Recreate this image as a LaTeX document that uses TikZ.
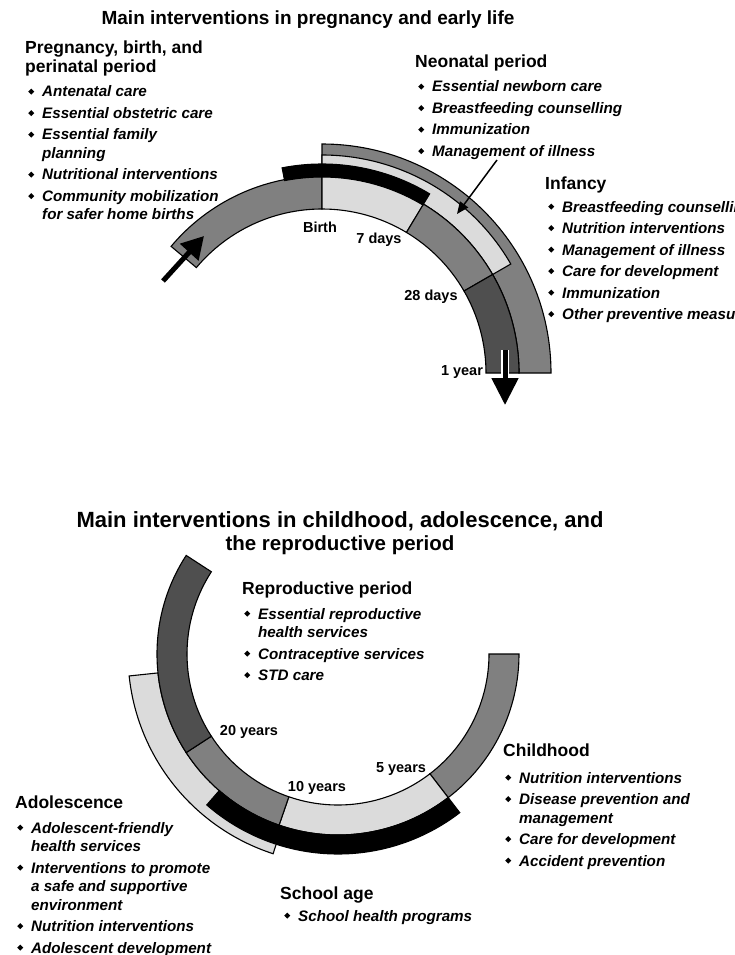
\documentclass[tikz,border=0pt]{standalone}
\usepackage{fontspec}
\usepackage{graphicx}
\setmainfont{Liberation Sans}
\usetikzlibrary{arrows.meta}

\definecolor{midgray}{gray}{0.50}
\definecolor{lightgray}{gray}{0.86}
\definecolor{darkgray}{gray}{0.31}

% annular sector: style, start angle, end angle, inner radius, outer radius
\newcommand\band[5]{\filldraw[seg,#1] (#2:#4) arc[start angle=#2,end angle=#3,radius=#4]
  -- (#3:#5) arc[start angle=#3,end angle=#2,radius=#5] -- cycle;}

% bullet and list item (\newline keeps the hanging indent of an item)
\newcommand\bul{\makebox[14pt][l]{\raisebox{2.4pt}{\rotatebox{45}{\rule{4.3pt}{4.3pt}}}}}
\newcommand\itm[1]{\par\hangindent=14pt\hangafter=1\noindent\bul#1}
\newcommand\itemblock[1]{\parbox[t]{340pt}{\baselineskip=18.5pt\parskip=3pt #1}}
\newcommand\headblock[1]{\parbox[t]{340pt}{\raggedright\baselineskip=19pt #1}}

\tikzset{
  seg/.style={draw=black, line width=1.1pt},
  head/.style={font=\bfseries\fontsize{17.5}{19}\selectfont, anchor=base west, inner sep=0pt},
  items/.style={font=\bfseries\itshape\fontsize{15.2}{18.5}\selectfont, anchor=base west, inner sep=0pt},
  tick/.style={font=\bfseries\fontsize{14.5}{15}\selectfont, anchor=base, inner sep=0pt},
  ttl/.style={font=\bfseries\fontsize{19}{23}\selectfont, anchor=base, inner sep=0pt},
  bigarrow/.style={line width=5pt, -{Triangle[length=22pt,width=24pt]}},
  thinarrow/.style={line width=1.5pt, -{Triangle[length=12pt,width=10pt]}},
}

\begin{document}
\begin{tikzpicture}[x=1pt,y=1pt]
\fill[white] (0,0) rectangle (734,-955);
\useasboundingbox (0,0) rectangle (734,-955);
\clip (0,0) rectangle (734,-955);

% ---------- pregnancy and early life ----------
\node[ttl] (t1) at (308,-25) {Main interventions in pregnancy and early life};

\begin{scope}[shift={(322,-373)}]
  \band{fill=midgray}{90}{0}{197}{229}      % infancy
  \band{fill=lightgray}{90}{30}{197}{218}   % neonatal
  \band{fill=midgray}{140}{90}{164}{197}    % pregnancy
  \band{fill=lightgray}{90}{59}{164}{197}   % birth - 7 days
  \band{fill=midgray}{59}{30}{164}{197}     % 7 - 28 days
  \band{fill=darkgray}{30}{0}{164}{197}     % 28 days - 1 year
  \band{fill=black}{101}{59}{196}{209}      % perinatal
\end{scope}

\node[tick] (birth) at (320,-232) {Birth};
\node[tick] (d7) at (379,-243) {7 days};
\node[tick] (d28) at (431,-300) {28 days};
\node[tick] (y1) at (462,-375) {1 year};

\node[head] (hpreg) at (25,-54) {\headblock{Pregnancy, birth, and\\perinatal period}};
\node[items] (lpreg) at (28,-97) {\itemblock{%
  \itm{Antenatal care}
  \itm{Essential obstetric care}
  \itm{Essential family\newline planning}
  \itm{Nutritional interventions}
  \itm{Community mobilization\newline for safer home births}}};

\node[head] (hneo) at (415,-68) {Neonatal period};
\node[items] (lneo) at (418,-92) {\itemblock{%
  \itm{Essential newborn care}
  \itm{Breastfeeding counselling}
  \itm{Immunization}
  \itm{Management of illness}}};

\node[head] (hinf) at (545,-189) {Infancy};
\node[items] (linf) at (548,-212) {\itemblock{%
  \itm{Breastfeeding counselling}
  \itm{Nutrition interventions}
  \itm{Management of illness}
  \itm{Care for development}
  \itm{Immunization}
  \itm{Other preventive measures}}};

\coordinate (pa0) at (163,-281);
\coordinate (pa1) at (204,-236);
\draw[bigarrow] (pa0) -- (pa1);

\coordinate (na0) at (497,-160);
\coordinate (na1) at (457,-214);
\draw[thinarrow] (na0) -- (na1);

\coordinate (ya0) at (505,-350);
\coordinate (ya1) at (505,-405);
\draw[line width=8pt, white, -{Triangle[length=30pt,width=30pt]}] (ya0) -- (ya1);
\draw[bigarrow, -{Triangle[length=27pt,width=26pt]}] (ya0) -- (ya1);

% ---------- childhood, adolescence, reproductive period ----------
\node[ttl, font=\bfseries\fontsize{22}{23}\selectfont] (t2) at (340,-527)
  {Main interventions in childhood, adolescence, and};
\node[ttl, font=\bfseries\fontsize{20.5}{23}\selectfont] (t2b) at (340,-550)
  {the reproductive period};

\begin{scope}[shift={(338,-654)}]
  \band{fill=lightgray}{-174}{-108}{181}{210}  % adolescence
  \band{fill=midgray}{0}{-52.5}{151}{181}      % childhood
  \band{fill=lightgray}{-52.5}{-109}{151}{181} % school age
  \band{fill=midgray}{-109}{-147}{151}{181}    % adolescence
  \band{fill=darkgray}{-147}{-213}{151}{181}   % reproductive
  \band{fill=black}{-131}{-52.5}{181}{200}     % school age
\end{scope}

\node[tick] (y20) at (249,-735) {20 years};
\node[tick] (y10) at (317,-791) {10 years};
\node[tick] (y5) at (401,-772) {5 years};

\node[head] (hrep) at (242,-594) {Reproductive period};
\node[items] (lrep) at (244,-619) {\itemblock{%
  \itm{Essential reproductive\newline health services}
  \itm{Contraceptive services}
  \itm{STD care}}};

\node[head] (hchi) at (503,-756) {Childhood};
\node[items] (lchi) at (505,-783) {\itemblock{%
  \itm{Nutrition interventions}
  \itm{Disease prevention and\newline management}
  \itm{Care for development}
  \itm{Accident prevention}}};

\node[head] (hado) at (15,-808) {Adolescence};
\node[items] (lado) at (17,-833) {\itemblock{%
  \itm{Adolescent-friendly\newline health services}
  \itm{Interventions to promote\newline a safe and supportive\newline environment}
  \itm{Nutrition interventions}
  \itm{Adolescent development}}};

\node[head] (hsch) at (280,-899) {School age};
\node[items] (lsch) at (284,-921) {\itemblock{%
  \itm{School health programs}}};
\end{tikzpicture}
\end{document}
